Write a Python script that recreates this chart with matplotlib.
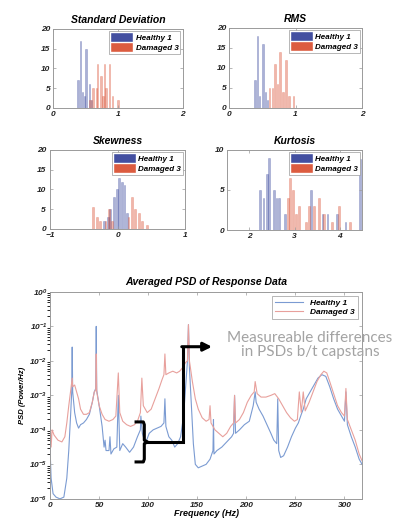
"""Statistical features + averaged PSD, healthy vs damaged capstan."""

import numpy as np
import matplotlib.pyplot as plt

plt.rcParams['font.family'] = ['Liberation Sans', 'DejaVu Sans']

# ---- histogram data (bin centres, counts) ----
std_h_x = [0.385, 0.425, 0.455, 0.49, 0.51, 0.56, 0.59]
std_h_n = [7, 17, 4, 3, 15, 6, 2]
std_d_x = [0.57, 0.615, 0.67, 0.69, 0.74, 0.77, 0.795, 0.82, 0.87, 0.92, 1.0]
std_d_n = [2, 5, 5, 11, 8, 3, 11, 5, 11, 3, 2]

rms_h_x = [0.39, 0.43, 0.46, 0.51, 0.55, 0.58]
rms_h_n = [7, 18, 3, 16, 4, 2]
rms_d_x = [0.61, 0.65, 0.69, 0.73, 0.77, 0.81, 0.86, 0.9, 0.97]
rms_d_n = [5, 5, 11, 6, 14, 4, 12, 3, 3]

skew_h_x = [-0.2, -0.15, -0.11, -0.06, -0.01, 0.025, 0.06, 0.1, 0.14]
skew_h_n = [2, 3, 5, 8, 10, 13, 12, 11, 4]
skew_d_x = [-0.36, -0.31, -0.26, -0.18, -0.13, -0.08, 0.16, 0.21, 0.26, 0.31, 0.36, 0.43]
skew_d_n = [5.5, 3, 2, 2, 5, 2, 3, 8, 5, 4, 2, 1]

kurt_h_x = [2.23, 2.31, 2.38, 2.43, 2.54, 2.6, 2.66, 2.78, 3.36, 3.62, 3.73, 3.95, 4.13, 4.46]
kurt_h_n = [5, 4, 7, 9, 5, 4, 4, 2, 5, 2, 2, 2, 1, 8.8]
kurt_d_x = [2.85, 2.9, 2.96, 3.03, 3.1, 3.26, 3.33, 3.44, 3.55, 3.66, 3.84, 3.99, 4.24]
kurt_d_n = [4, 6.5, 5, 2, 3, 1, 3, 3, 4, 2, 1, 3, 1]

# ---- averaged PSD, log10(power/Hz) ----
healthy_f = [0, 1, 3, 6, 10, 14, 17, 19, 21, 22, 22.5, 23, 25, 27, 29, 31, 34, 37, 40, 43,
             45, 46.5, 47, 47.5, 50, 53, 55, 56, 57, 60, 61, 62, 65, 68, 69.5, 71, 74, 77,
             81, 85, 89, 92, 92.5, 94, 97, 101, 105, 109, 113, 116, 117, 118, 121, 124,
             127, 130, 133, 136, 138, 140, 141, 142, 144, 146, 148, 151, 155, 159, 163,
             166, 166.5, 167, 170, 175, 180, 185, 187, 188, 189, 193, 198, 203, 207, 209,
             210, 213, 217, 221, 225, 228, 231, 232, 233, 235, 238, 242, 246, 250, 253,
             256, 258, 261, 265, 269, 273, 277, 281, 285, 289, 293, 297, 300, 301.5, 303,
             307, 311, 315, 318]
healthy_log = [-4.6, -5.4, -5.85, -5.95, -6.0, -5.95, -5.4, -4.6, -3.5, -2.9, -1.6, -2.9,
               -3.5, -3.8, -3.95, -3.85, -3.8, -3.7, -3.55, -3.2, -2.9, -2.8, -1.0, -2.85,
               -3.3, -3.9, -4.5, -4.3, -4.6, -4.6, -4.2, -4.7, -4.55, -4.5, -3.0, -4.6,
               -4.4, -4.5, -4.65, -4.5, -4.2, -4.0, -3.6, -4.1, -4.4, -4.1, -4.0, -3.95,
               -3.9, -3.8, -3.1, -3.9, -4.2, -4.3, -4.5, -4.4, -4.2, -3.6, -2.8, -2.0,
               -0.95, -2.2, -3.3, -4.4, -5.0, -5.1, -5.05, -5.0, -4.85, -4.6, -3.7, -4.7,
               -4.6, -4.5, -4.35, -4.2, -4.1, -3.0, -4.1, -4.0, -3.85, -3.75, -3.3, -2.9,
               -3.2, -3.4, -3.6, -3.85, -4.1, -4.3, -4.4, -3.1, -4.6, -4.8, -4.75, -4.5,
               -4.2, -3.95, -3.8, -3.55, -3.4, -3.1, -2.9, -2.7, -2.5, -2.4, -2.45, -2.75,
               -3.1, -3.4, -3.6, -3.75, -2.9, -3.85, -4.2, -4.5, -4.85, -5.0]

damaged_f = [0, 1, 2, 4, 8, 12, 15, 17, 19, 21, 22.5, 23, 25, 27, 29, 31, 34, 37, 40, 43,
             45, 46.5, 47, 47.5, 50, 53, 56, 60, 64, 67, 69.5, 71, 74, 78, 82, 86, 89, 92,
             93.5, 95, 99, 103, 107, 111, 114, 116, 117, 118, 121, 125, 129, 132, 135, 138,
             140, 141, 142, 145, 148, 151, 155, 159, 162, 163, 164, 168, 172, 176, 180,
             184, 187, 188, 189, 193, 197, 201, 205, 208, 209, 211, 215, 220, 225, 229,
             233, 237, 241, 245, 249, 252, 254, 256, 258, 260, 264, 268, 272, 276, 279,
             282, 285, 289, 293, 297, 300, 301.5, 303, 307, 311, 315, 318]
damaged_log = [-3.8, -4.5, -4.0, -4.15, -4.3, -4.35, -4.2, -3.8, -3.3, -2.85, -2.5, -2.75,
               -2.7, -2.9, -3.1, -3.4, -3.55, -3.55, -3.5, -3.2, -2.9, -2.85, -1.8, -2.9,
               -3.3, -3.55, -3.7, -3.75, -3.7, -3.6, -2.35, -3.5, -3.75, -3.85, -3.9,
               -3.85, -3.75, -3.5, -2.5, -3.3, -3.5, -3.4, -3.1, -2.8, -2.55, -2.4, -1.8,
               -2.4, -2.35, -2.3, -2.35, -2.3, -2.2, -2.05, -2.0, -0.95, -2.0, -2.6, -3.1,
               -3.4, -3.65, -3.75, -3.7, -3.3, -3.8, -4.0, -4.1, -4.2, -4.1, -3.9, -3.8,
               -3.0, -3.8, -3.7, -3.5, -3.2, -3.0, -2.9, -2.6, -2.95, -3.05, -3.05, -3.0,
               -2.95, -3.1, -3.3, -3.5, -3.65, -3.75, -3.7, -2.9, -3.5, -2.9, -3.45, -3.2,
               -2.9, -2.6, -2.4, -2.3, -2.35, -2.6, -2.95, -3.3, -3.5, -3.6, -2.8, -3.7,
               -4.0, -4.3, -4.7, -4.9]

labels = ["Healthy 1", "Damaged 3"]
blue, red = "#2e3c96", "#d94a2b"
bi = dict(fontweight="bold", fontstyle="italic")


def style_axes(ax):
    for s in ax.spines.values():
        s.set_color("#9a9a9a")
        s.set_linewidth(0.7)
    ax.tick_params(direction="in", length=2, width=0.5, top=True, right=True,
                   labelsize=6, pad=2, colors="#9a9a9a", labelcolor="#222222")
    for t in ax.get_xticklabels() + ax.get_yticklabels():
        t.set_fontweight("bold")
        t.set_fontstyle("italic")


def hist_panel(rect, title, hx, hn, dx, dn, width, xlim, xticks, ylim, yticks):
    ax = fig.add_axes(rect)
    ax.bar(hx, hn, width=width, color=blue, alpha=0.4, edgecolor=blue, linewidth=0.4,
           label=labels[0])
    ax.bar(dx, dn, width=width, color=red, alpha=0.4, edgecolor=red, linewidth=0.4,
           label=labels[1])
    ax.set_xlim(*xlim)
    ax.set_ylim(*ylim)
    ax.set_xticks(xticks)
    ax.set_yticks(yticks)
    ax.set_title(title, fontsize=7.5, pad=4, **bi)
    leg = ax.legend(loc="upper right", prop=dict(size=5.8, weight="bold", style="italic"),
                    handlelength=2.6, handleheight=1.1, borderpad=0.25,
                    labelspacing=0.15, handletextpad=0.4, borderaxespad=0.3,
                    fancybox=False, edgecolor="#9a9a9a", framealpha=1)
    leg.get_frame().set_linewidth(0.5)
    for h in leg.legend_handles:
        h.set_alpha(0.9)
    style_axes(ax)
    return ax


fig = plt.figure(figsize=(4.01, 5.24), dpi=100)

hist_panel([0.132, 0.794, 0.324, 0.151], "Standard Deviation", std_h_x, std_h_n,
           std_d_x, std_d_n, 0.022, (0, 2), [0, 1, 2], (0, 20), [0, 5, 10, 15, 20])
hist_panel([0.571, 0.794, 0.332, 0.153], "RMS", rms_h_x, rms_h_n, rms_d_x, rms_d_n,
           0.022, (0, 2), [0, 1, 2], (0, 20), [0, 5, 10, 15, 20])
sk = hist_panel([0.125, 0.563, 0.337, 0.151], "Skewness", skew_h_x, skew_h_n, skew_d_x,
                skew_d_n, 0.028, (-1, 1), [-1, 0, 1], (0, 20), [0, 5, 10, 15, 20])
sk.tick_params(axis="y", pad=3)
hist_panel([0.566, 0.561, 0.337, 0.153], "Kurtosis", kurt_h_x, kurt_h_n, kurt_d_x,
           kurt_d_n, 0.04, (1.5, 4.5), [2, 3, 4], (0, 10), [0, 5, 10])

# ---- PSD panel ----
ax = fig.add_axes([0.125, 0.048, 0.778, 0.395])
ax.plot(healthy_f, np.power(10.0, healthy_log), color="#7b9bd2", lw=0.8, label=labels[0])
ax.plot(damaged_f, np.power(10.0, damaged_log), color="#e8a09c", lw=0.8, label=labels[1])
ax.set_yscale("log")
ax.set_xlim(0, 318)
ax.set_ylim(1e-6, 1)
ax.set_xticks([0, 50, 100, 150, 200, 250, 300])
ax.set_yticks([10.0 ** k for k in range(-6, 1)])
ax.set_title("Averaged PSD of Response Data", fontsize=7.5, pad=5, **bi)
ax.set_xlabel("Frequency (Hz)", fontsize=6.5, labelpad=0, **bi)
ax.set_ylabel("PSD (Power/Hz)", fontsize=5.5, labelpad=2, **bi)
leg = ax.legend(loc="upper right", prop=dict(size=6, weight="bold", style="italic"),
                handlelength=3.4, borderpad=0.35, labelspacing=0.2, handletextpad=0.9,
                borderaxespad=0.5, fancybox=False, edgecolor="#9a9a9a", framealpha=1)
leg.get_frame().set_linewidth(0.5)
style_axes(ax)

# bracket + elbow arrow pointing at the annotation
bracket_f = [87.6, 95.0, 96.0, 96.0, 99.3, 96.0, 96.0, 95.0, 87.6]
bracket_log = [-3.77, -3.77, -3.85, -4.3, -4.35, -4.4, -4.85, -4.93, -4.93]
ax.plot(bracket_f, np.power(10.0, bracket_log), color="black", lw=2.2,
        solid_joinstyle="round")
ax.plot([99.3, 135, 135], [10 ** -4.35, 10 ** -4.35, 10 ** -1.59], color="black", lw=2.2,
        solid_joinstyle="miter")
ax.annotate("", xy=(165, 10 ** -1.59), xytext=(134.2, 10 ** -1.59),
            arrowprops=dict(arrowstyle="-|>,head_length=0.5,head_width=0.25",
                            color="black", lw=2.2, shrinkA=0, shrinkB=0))
fig.text(0.773, 0.342, "Measureable differences\nin PSDs b/t capstans", ha="center",
         va="center", fontsize=11, color="#a3a3a3", family=["Lato", "DejaVu Sans"],
         linespacing=1.05)

fig.savefig("out.png", dpi=100)
